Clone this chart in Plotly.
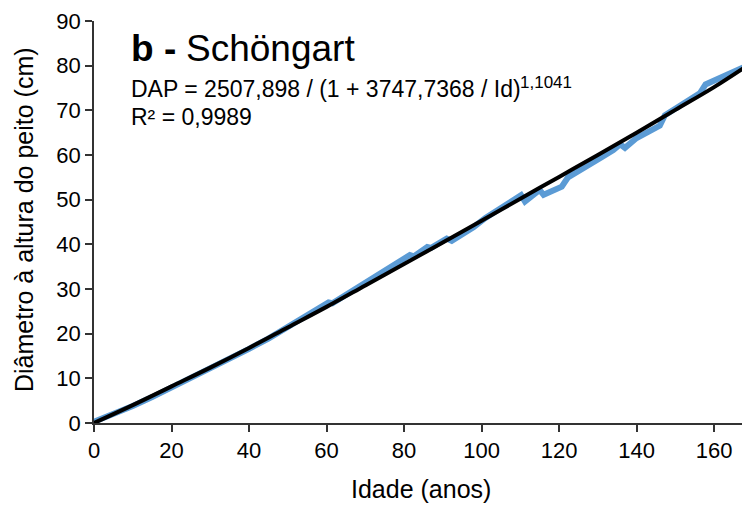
import plotly.graph_objects as go

obs_age = [0, 5, 10, 15, 20, 25, 30, 35, 40, 45, 50, 55, 58, 60.5, 61.5, 65, 70, 75, 78,
           81.5, 82.5, 84, 86, 87, 89, 91, 92.3, 95, 98, 101, 104, 107, 110.2, 111.2, 113,
           115, 116, 118, 120.7, 122.3, 125, 128, 131, 134, 135.8, 137, 138.5, 140, 143,
           146, 147.3, 150, 153, 156.4, 157.8, 160, 163, 167.5]
obs_dap = [0.3, 1.9, 3.8, 5.8, 7.9, 10.0, 12.1, 14.3, 16.6, 18.9, 21.4, 24.0, 25.6, 27.0, 26.8,
           28.7, 31.2, 33.8, 35.5, 37.6, 37.3, 38.3, 39.4, 39.2, 40.3, 41.3, 40.8, 42.2, 43.9,
           45.9, 47.6, 49.1, 51.0, 49.6, 51.0, 52.2, 51.1, 52.0, 52.9, 55.0, 56.5, 58.2, 59.5,
           61.1, 62.4, 61.6, 62.7, 63.8, 65.2, 66.6, 68.9, 70.3, 72.0, 73.9, 75.8, 76.6, 77.9,
           79.6]

# Fitted curve (black)
fit_age = [0, 10, 20, 30, 40, 50, 60, 70, 80, 90, 100, 110, 120, 130, 140, 150, 160, 167.5]
fit_dap = [0, 4.0, 8.2, 12.4, 16.8, 21.4, 26.0, 30.8, 35.6, 40.4, 45.3, 50.2, 55.1, 60.0,
           65.0, 70.1, 75.2, 79.4]

x_ticks = [0, 20, 40, 60, 80, 100, 120, 140, 160]
y_ticks = [0, 10, 20, 30, 40, 50, 60, 70, 80, 90]

FONT = "Liberation Sans, Arial, sans-serif"

fig = go.Figure()
fig.add_trace(go.Scatter(x=obs_age, y=obs_dap, mode="lines",
                         line=dict(color="#5B9BD5", width=6), showlegend=False))
fig.add_trace(go.Scatter(x=fit_age, y=fit_dap, mode="lines", line_shape="spline",
                         line=dict(color="#000000", width=4), showlegend=False))

fig.update_layout(
    width=742, height=509,
    margin=dict(l=94, r=0, t=21, b=86),
    paper_bgcolor="white", plot_bgcolor="white",
    font=dict(family=FONT, color="black"),
    showlegend=False,
    xaxis=dict(range=[0, 167.2], tickvals=x_ticks, ticks="outside", ticklen=7,
               tickwidth=1.5, tickcolor="#333", showline=True, linecolor="#333",
               linewidth=1.5, showgrid=False, zeroline=False,
               tickfont=dict(size=22, family=FONT, color="black")),
    yaxis=dict(range=[0, 90], tickvals=y_ticks, ticks="outside", ticklen=7,
               tickwidth=1.5, tickcolor="#333", showline=True, linecolor="#333",
               linewidth=1.5, showgrid=False, zeroline=False,
               tickfont=dict(size=22, family=FONT, color="black")),
)

fig.add_annotation(xref="paper", yref="paper", x=0.505, y=-0.165, xanchor="center",
                   yanchor="middle", showarrow=False, text="Idade (anos)",
                   font=dict(size=25, family=FONT, color="black"))
fig.add_annotation(xref="paper", yref="paper", x=-0.108, y=0.505, xanchor="center",
                   yanchor="middle", showarrow=False, textangle=-90,
                   text="Diâmetro à altura do peito (cm)",
                   font=dict(size=25, family=FONT, color="black"))
fig.add_annotation(xref="paper", yref="paper", x=0.054, y=0.932, xanchor="left",
                   yanchor="middle", showarrow=False, text="b -",
                   font=dict(size=37, family=FONT, color="black", weight="bold"))
fig.add_annotation(xref="paper", yref="paper", x=0.139, y=0.932, xanchor="left",
                   yanchor="middle", showarrow=False, text="Schöngart",
                   font=dict(size=37, family=FONT, color="black"))
fig.add_annotation(xref="paper", yref="paper", x=0.054, y=0.83, xanchor="left",
                   yanchor="middle", showarrow=False,
                   text="DAP = 2507,898 / (1 + 3747,7368 / Id)",
                   font=dict(size=23, family=FONT, color="black"))
fig.add_annotation(xref="paper", yref="paper", x=0.655, y=0.846, xanchor="left",
                   yanchor="middle", showarrow=False, text="1,1041",
                   font=dict(size=17, family=FONT, color="black"))
fig.add_annotation(xref="paper", yref="paper", x=0.054, y=0.76, xanchor="left",
                   yanchor="middle", showarrow=False,
                   text="R² = 0,9989",
                   font=dict(size=23, family=FONT, color="black"))

fig.write_html("out.html")
